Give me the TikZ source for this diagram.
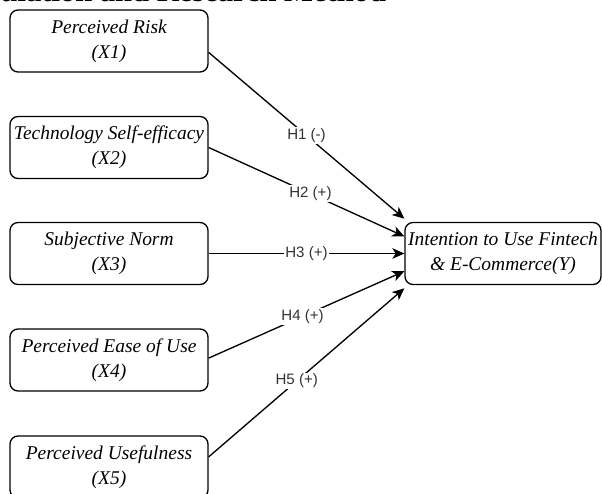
\documentclass[tikz,border=0pt]{standalone}
\usepackage{fontspec}
\setmainfont{Liberation Serif}
\newfontfamily\labelfont{Liberation Sans}
\usetikzlibrary{calc,arrows.meta}
\def\boxwidth{148.5pt}
\def\boxheight{46.5pt}
\def\boxx{109}

\begin{document}
\begin{tikzpicture}[x=0.75pt, y=-0.75pt, line width=1pt,
                    var/.style={draw, rounded corners=6pt, minimum width=\boxwidth, minimum height=\boxheight,
                                inner sep=0pt, align=center, font=\fontsize{14.6}{18.5}\selectfont\itshape},
                    hyp/.style={-{Stealth[length=9pt, width=8pt, inset=2.5pt]}},
                    hlabel/.style={fill=white, inner sep=1pt, text=black!80, font=\labelfont\fontsize{11.3}{12}\selectfont}]
    \useasboundingbox (0,0) rectangle (602,493);
    \clip (0,0) rectangle (602,493);
    % cut heading
    \node[anchor=base west, inner sep=0pt, font=\fontsize{22.9}{24}\selectfont\bfseries] (head) at (0,1) {ulation and Research Method};
    %
    \node[var] (x1) at (\boxx,41)    {Perceived Risk\\(X1)};
    \node[var] (x2) at (\boxx,147.5) {Technology Self-efficacy\\(X2)};
    \node[var] (x3) at (\boxx,253.5) {Subjective Norm\\(X3)};
    \node[var] (x4) at (\boxx,360)   {Perceived Ease of Use\\(X4)};
    \node[var] (x5) at (\boxx,467)   {Perceived Usefulness\\(X5)};
    \node[var, minimum width=147pt] (y) at (503,253.5) {Intention to Use Fintech\\\& E-Commerce(Y)};
    %
    \foreach \n/\s/\t/\p/\h in {x1/.68/-.05/.5/H1 (-), x2/.5/.23/.52/H2 (+), x3/.5/.5/.5/H3 (+), x4/.47/.78/.48/H4 (+), x5/.34/1.05/.45/H5 (+)}{%
      \draw[hyp] ($(\n.north east)!\s!(\n.south east)$) -- node[hlabel, pos=\p] {\h} ($(y.north west)!\t!(y.south west)$);}
\end{tikzpicture}
\end{document}
